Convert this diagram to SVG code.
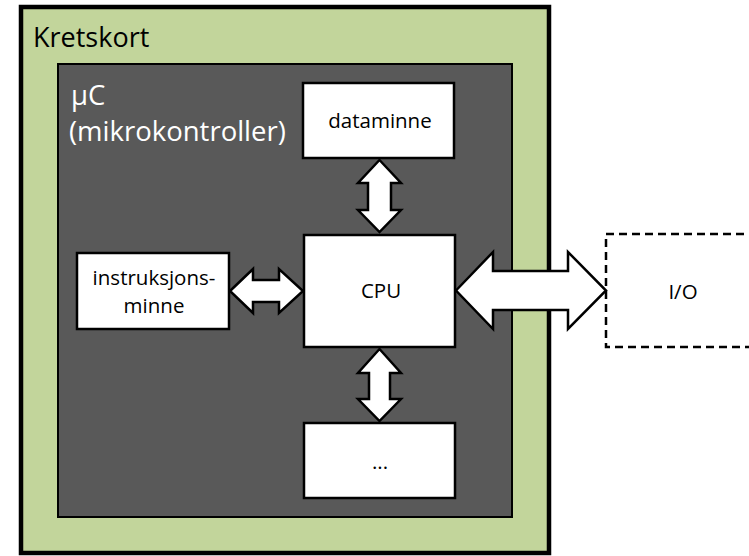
<svg xmlns="http://www.w3.org/2000/svg" width="749" height="556" viewBox="0 0 749 556">
  <style>
    .lbl { font-family: "Open Sans", "Noto Sans", "Liberation Sans", sans-serif; fill: #000; }
    .big { font-size: 27px; }
    .mc { font-size: 27.5px; fill: #ffffff; }
    .sm { font-size: 20.5px; }
    .box { fill: #ffffff; stroke: #000; stroke-width: 2.5; }
    .arrow { fill: #ffffff; stroke: #000; stroke-width: 2.5; stroke-linejoin: miter; }
  </style>

  <!-- circuit board -->
  <g id="kretskort">
    <rect x="21" y="7" width="528" height="546" fill="#c2d59b" stroke="#000" stroke-width="4.5"/>
    <text class="lbl big" x="33" y="47">Kretskort</text>
  </g>

  <!-- microcontroller -->
  <g id="mikrokontroller">
    <rect x="58" y="64" width="454" height="453" fill="#595959" stroke="#000" stroke-width="2"/>
    <text class="lbl mc" x="71" y="105">μC</text>
    <text class="lbl mc" x="69" y="141">(mikrokontroller)</text>
  </g>

  <g id="dataminne">
    <rect class="box" x="303" y="83" width="151" height="75"/>
    <text class="lbl sm" x="380" y="128" text-anchor="middle">dataminne</text>
  </g>

  <g id="cpu">
    <rect class="box" x="304" y="235" width="151" height="112"/>
    <text class="lbl sm" x="381" y="298" text-anchor="middle">CPU</text>
  </g>

  <g id="instruksjonsminne">
    <rect class="box" x="77" y="253" width="152" height="76"/>
    <text class="lbl sm" x="154" y="285" text-anchor="middle">instruksjons-</text>
    <text class="lbl sm" x="154" y="313" text-anchor="middle">minne</text>
  </g>

  <g id="annet">
    <rect class="box" x="304" y="423" width="151" height="75"/>
    <text class="lbl sm" x="380" y="469" text-anchor="middle">...</text>
  </g>

  <g id="io">
    <rect x="606" y="234" width="160" height="113" fill="#ffffff" stroke="#000" stroke-width="2.5" stroke-dasharray="8 5"/>
    <text class="lbl sm" x="683" y="299" text-anchor="middle">I/O</text>
  </g>

  <!-- block arrows between the units -->
  <g id="connectors">
    <!-- dataminne <-> CPU -->
    <polygon class="arrow" points="379.5,160 401,183 391,183 391,210 401,210 379.5,232 358,210 368,210 368,183 358,183"/>
    <!-- CPU <-> ... -->
    <polygon class="arrow" points="379.5,349 401,373 390,373 390,399 401,399 379.5,421 358,399 369,399 369,373 358,373"/>
    <!-- instruksjonsminne <-> CPU -->
    <polygon class="arrow" points="230,291 253,269 253,280 279,280 279,269 303,291 279,313 279,302 253,302 253,313"/>
    <!-- CPU <-> I/O -->
    <polygon class="arrow" points="456,290.5 493,252 493,271 568,271 568,252 606,290.5 568,329 568,310 493,310 493,329"/>
  </g>
</svg>
